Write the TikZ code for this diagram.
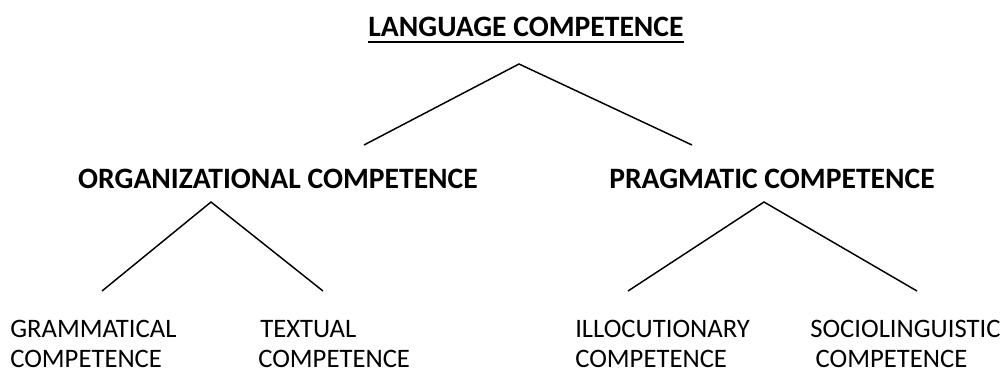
\documentclass[tikz,border=0pt]{standalone}
\usepackage{fontspec}
\setmainfont{Carlito}
\begin{document}
\begin{tikzpicture}[x=0.75pt,y=-0.75pt,
    head/.style={font=\fontsize{22.2}{26}\selectfont\bfseries, inner sep=0pt, anchor=base},
    leaf/.style={font=\fontsize{20}{22.5}\selectfont, align=left, inner sep=0pt, anchor=base west},
    branch/.style={line width=1.1pt}]
    \useasboundingbox (0,0) rectangle (1003,372);

    % Headings
    \node[head] (lang) at (526,36) {LANGUAGE COMPETENCE};
    \draw[line width=1.5pt] ([yshift=-4.5pt]lang.base west) -- ([yshift=-4.5pt]lang.base east);
    \node[head] (org)  at (278,188) {ORGANIZATIONAL COMPETENCE};
    \node[head] (prag) at (772,188) {PRAGMATIC COMPETENCE};

    % Leaves
    \node[leaf] (gram)  at (10,367)  {GRAMMATICAL\\COMPETENCE};
    \node[leaf] (text)  at (258,367) {\hspace{1.5pt}TEXTUAL\\COMPETENCE};
    \node[leaf] (illoc) at (575,367) {ILLOCUTIONARY\\COMPETENCE};
    \node[leaf] (socio) at (810,367) {SOCIOLINGUISTIC\\\hspace{4pt}COMPETENCE};

    % Branch points
    \coordinate (langTop) at (519,64);
    \coordinate (langL)   at (364,145);
    \coordinate (langR)   at (692,145);
    \coordinate (orgTop)  at (211,202);
    \coordinate (orgL)    at (102,291);
    \coordinate (orgR)    at (323,291);
    \coordinate (pragTop) at (764,202);
    \coordinate (pragL)   at (628,291);
    \coordinate (pragR)   at (917,291);

    \draw[branch] (langL) -- (langTop) -- (langR);
    \draw[branch] (orgL) -- (orgTop) -- (orgR);
    \draw[branch] (pragL) -- (pragTop) -- (pragR);
\end{tikzpicture}
\end{document}
